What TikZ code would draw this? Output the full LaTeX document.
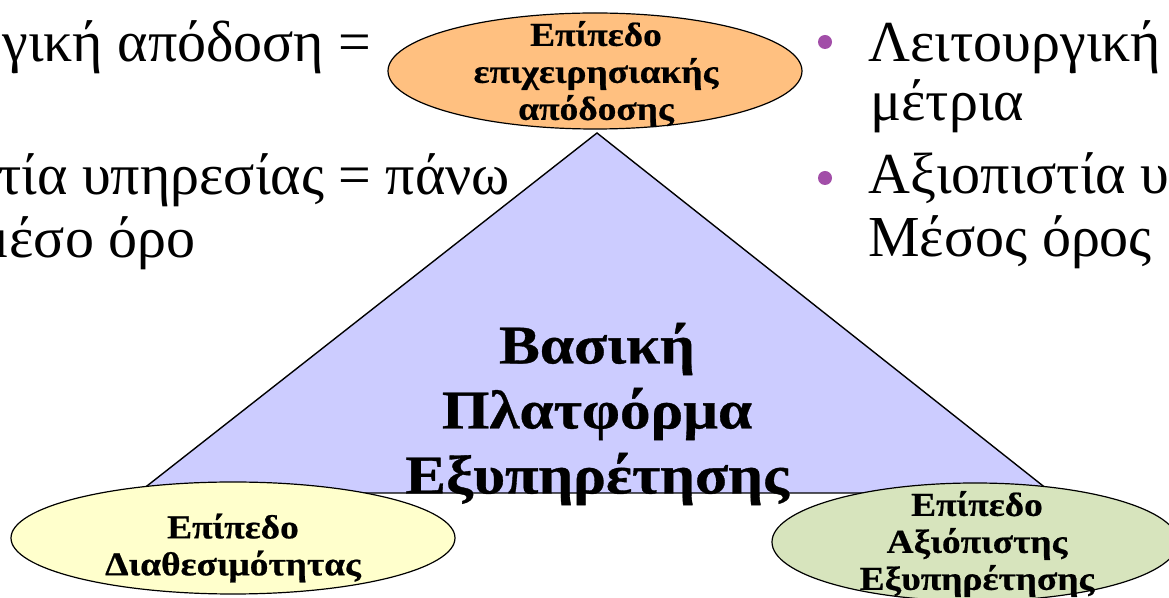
\documentclass[tikz,border=0pt]{standalone}
\usepackage{fontspec}
\setmainfont{Liberation Serif}
\newfontfamily\lvlfont[FakeStretch=1.12,FakeBold=0.6]{Liberation Serif}
\usetikzlibrary{shapes.geometric}
\definecolor{perforange}{RGB}{255,192,128}
\definecolor{availyellow}{RGB}{255,255,204}
\definecolor{relgreen}{RGB}{215,228,189}
\definecolor{platlav}{RGB}{204,204,255}
\definecolor{bulletpurple}{RGB}{162,78,168}
\begin{document}
\begin{tikzpicture}[x=0.5pt,y=-0.5pt,
  lvl/.style={ellipse,draw,line width=0.6pt,inner sep=0pt},
  lvltext/.style={align=center,inner sep=0pt,font=\lvlfont\bfseries\fontsize{16.7}{18.5}\selectfont},
  body/.style={anchor=base west,inner sep=0pt,font=\fontsize{29}{33}\selectfont},
  bulletdot/.style={fill=bulletpurple}]
  \useasboundingbox (0,0) rectangle (1169,598);
  \clip (0,0) rectangle (1169,598);
  % text of the slide, left column (cut off)
  \node[body] (l1) at (2,62) {γική απόδοση =};
  \node[body] (l2) at (-2,195) {τία υπηρεσίας = πάνω};
  \node[body] (l3) at (-22,258) {μέσο όρο};
  % right column
  \fill[bulletdot] (825,42) circle (3.5pt);
  \fill[bulletdot] (825,178) circle (3.5pt);
  \node[body] (r1) at (868,62) {Λειτουργική};
  \node[body] (r2) at (870,121) {μέτρια};
  \node[body] (r3) at (868,194) {Αξιοπιστία υπ};
  \node[body] (r4) at (868,257) {Μέσος όρος};
  % platform triangle
  \draw[fill=platlav,line width=0.7pt] (597,133) -- (138,493) -- (1052,493) -- cycle;
  \node[lvltext,font=\lvlfont\bfseries\fontsize{27.3}{32.5}\selectfont] (plat) at (597,414) {Βασική\\Πλατφόρμα\\Εξυπηρέτησης};
  % the three levels
  \node[lvl,fill=perforange,minimum width=207pt,minimum height=58pt] (perf) at (595,71) {};
  \node[lvltext] (perf-t) at (596,74) {Επίπεδο\\επιχειρησιακής\\απόδοσης};
  \node[lvl,fill=availyellow,minimum width=222pt,minimum height=56pt] (avail) at (233,538) {};
  \node[lvltext] (avail-t) at (233,548) {Επίπεδο\\Διαθεσιμότητας};
  \node[lvl,fill=relgreen,minimum width=203pt,minimum height=59pt] (rel) at (975,542) {};
  \node[lvltext] (rel-t) at (977,544) {Επίπεδο\\Αξιόπιστης\\Εξυπηρέτησης};
\end{tikzpicture}
\end{document}
